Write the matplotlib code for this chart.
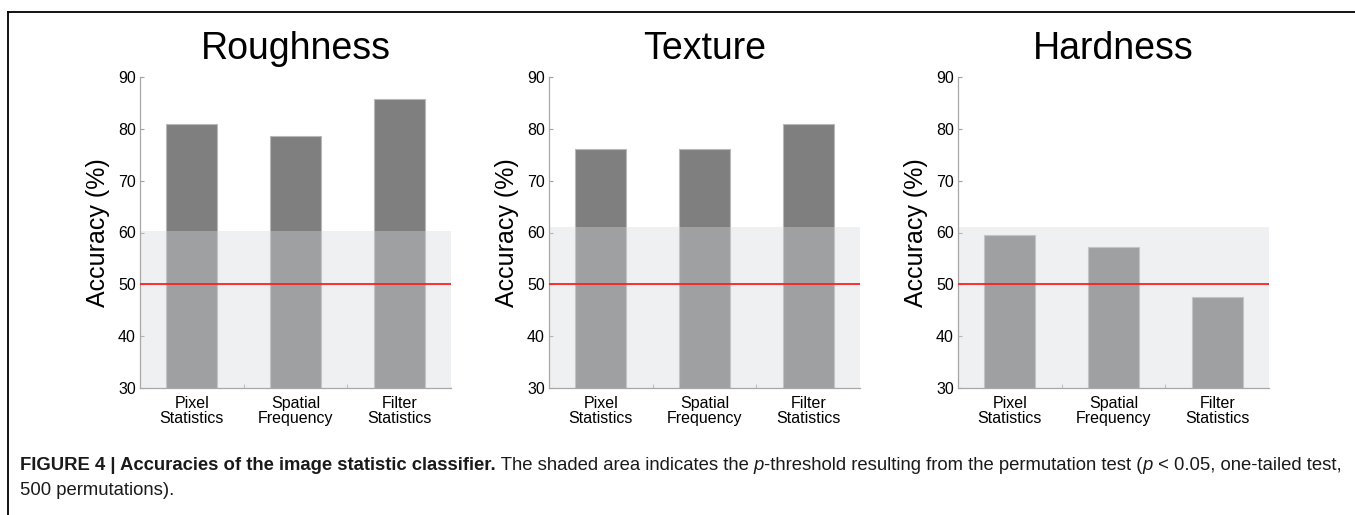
import matplotlib
matplotlib.use("Agg")
import matplotlib.pyplot as plt
from matplotlib.lines import Line2D

plt.rcParams['font.family'] = ['Liberation Sans', 'DejaVu Sans']

# classifier accuracies (%) per feature set, for each judged property
methods = ['Pixel\nStatistics', 'Spatial\nFrequency', 'Filter\nStatistics']
titles = ['Roughness', 'Texture', 'Hardness']
roughness = [80.95, 78.57, 85.71]
texture = [76.19, 76.19, 80.95]
hardness = [59.52, 57.14, 47.62]
# p < 0.05 thresholds from the permutation test
thresholds = [60.3, 61.1, 61.1]
chance = 50

W, H = 1355, 515
fig = plt.figure(figsize=(W / 100, H / 100), dpi=100)

lefts = [140, 549, 958]
for left, title, vals, thr in zip(lefts, titles, [roughness, texture, hardness], thresholds):
    ax = fig.add_axes([left / W, 1 - 388 / H, 311 / W, 311 / H])
    x = [1, 2, 3]
    ax.bar(x, vals, width=0.49, color='#7f7f7f', edgecolor='#b8b8b8', linewidth=0.8, zorder=1)
    ax.axhspan(30, thr, color='#d5d8db', alpha=0.38, lw=0, zorder=2)
    ax.axhline(chance, color='#ff1f1f', lw=1.3, zorder=3)
    ax.set_xlim(0.5, 3.5)
    ax.set_ylim(30, 90)
    ax.set_yticks(range(30, 91, 10))
    ax.set_xticks(x)
    ax.set_xticklabels(methods, linespacing=1.0)
    ax.set_xticks([1.5, 2.5], minor=True)
    ax.tick_params(axis='x', which='major', length=0, pad=6, labelsize=11.5)
    ax.tick_params(axis='x', which='minor', length=3, direction='in', color='#a0a0a0')
    ax.tick_params(axis='y', length=3, direction='in', color='#a0a0a0', pad=3, labelsize=11.5)
    for s in ['top', 'right']:
        ax.spines[s].set_visible(False)
    for s in ['left', 'bottom']:
        ax.spines[s].set_color('#a8a8a8')
        ax.spines[s].set_linewidth(0.9)
    ax.set_ylabel('Accuracy (%)', fontsize=18, labelpad=6)
    ax.set_title(title, fontsize=27, pad=13)

# frame around the figure panel
x0, y0 = 8 / W, 1 - 12 / H
fig.add_artist(Line2D([x0, 1], [y0, y0], color='black', lw=1.3))
fig.add_artist(Line2D([x0, x0], [0, y0], color='black', lw=1.3))

# caption, drawn run by run so bold/italic parts sit inline
cap_size = 13.3
line1 = [
    ("FIGURE 4 | Accuracies of the image statistic classifier.", 'bold', 'normal'),
    (" The shaded area indicates the ", 'normal', 'normal'),
    ("p", 'normal', 'italic'),
    ("-threshold resulting from the permutation test (", 'normal', 'normal'),
    ("p", 'normal', 'italic'),
    (" < 0.05, one-tailed test,", 'normal', 'normal'),
]
line2 = [("500 permutations).", 'normal', 'normal')]

renderer = fig.canvas.get_renderer()
for runs, ybase in [(line1, 470), (line2, 495)]:
    xpix = 20
    for txt, weight, style in runs:
        t = fig.text(xpix / W, 1 - ybase / H, txt, fontsize=cap_size, fontweight=weight,
                     fontstyle=style, va='baseline', ha='left', color='#1a1a1a')
        bb = t.get_window_extent(renderer=renderer)
        xpix = bb.x1

fig.savefig('out.png', dpi=100)
